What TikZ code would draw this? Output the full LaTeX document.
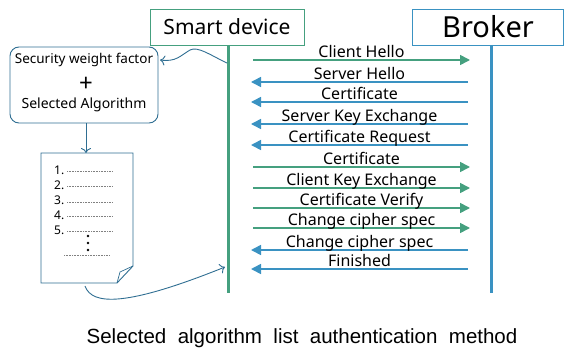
\documentclass[tikz,border=0pt]{standalone}
\usepackage{fontspec}
\setmainfont{Noto Sans}
\newfontfamily\capfont{Liberation Sans}
\usepackage{tikz}
\usetikzlibrary{arrows.meta}
\usetikzlibrary{calc}
\usetikzlibrary{positioning}

\definecolor{devgreen}{HTML}{45A07F}
\definecolor{brkblue}{HTML}{3A92C2}
\definecolor{lstblue}{HTML}{2F6E92}

\begin{document}
\begin{tikzpicture}[x=1pt,y=-1pt,
		msg/.style={line width=1.6pt,-{Triangle[length=10pt,width=10pt]}},
		lbl/.style={inner sep=0pt,anchor=base,yshift=2.5pt,text=black,font=\fontsize{16}{16}\selectfont},
		flow/.style={lstblue,line width=0.9pt,-{To[length=5pt,width=10pt]}},
		num/.style={inner sep=0pt,anchor=base west,font=\fontsize{12}{12}\selectfont\bfseries},
		lstdash/.style={gray,line width=0.5pt,dash pattern=on 1pt off 0.6pt}]
		\useasboundingbox (0,0) rectangle (565,353);

		% headers and lifelines
		\node[draw=devgreen,line width=0.9pt,minimum width=154pt,minimum height=36pt,inner sep=0pt,font=\fontsize{21}{21}\selectfont] (dev) at (227,27) {Smart device};
		\node[draw=brkblue,line width=0.9pt,minimum width=151pt,minimum height=36pt,inner sep=0pt,font=\fontsize{29}{29}\selectfont] (brk) at (488,27) {Broker};
		\coordinate (devtop) at (228,45);
		\coordinate (devend) at (228,293);
		\coordinate (brktop) at (491,45);
		\coordinate (brkend) at (491,293);
		\draw[devgreen,line width=3pt] (devtop) -- (devend);
		\draw[brkblue,line width=3pt] (brktop) -- (brkend);

		% handshake
		\coordinate (d1) at (253,60);  \coordinate (b1) at (470,60);
		\coordinate (d2) at (251,82);  \coordinate (b2) at (468,82);
		\coordinate (d3) at (251,102); \coordinate (b3) at (468,102);
		\coordinate (d4) at (251,124); \coordinate (b4) at (468,124);
		\coordinate (d5) at (251,145); \coordinate (b5) at (468,145);
		\coordinate (d6) at (253,167); \coordinate (b6) at (470,167);
		\coordinate (d7) at (253,188); \coordinate (b7) at (470,188);
		\coordinate (d8) at (253,208); \coordinate (b8) at (470,208);
		\coordinate (d9) at (253,228); \coordinate (b9) at (470,228);
		\coordinate (d10) at (251,250); \coordinate (b10) at (468,250);
		\coordinate (d11) at (251,269); \coordinate (b11) at (468,269);
		\draw[msg,devgreen] (d1) -- node[lbl] (m1) {Client Hello} (b1);
		\draw[msg,brkblue] (b2) -- node[lbl] (m2) {Server Hello} (d2);
		\draw[msg,brkblue] (b3) -- node[lbl] (m3) {Certificate} (d3);
		\draw[msg,brkblue] (b4) -- node[lbl] (m4) {Server Key Exchange} (d4);
		\draw[msg,brkblue] (b5) -- node[lbl] (m5) {Certificate Request} (d5);
		\draw[msg,devgreen] (d6) -- node[lbl] (m6) {Certificate} (b6);
		\draw[msg,devgreen] (d7) -- node[lbl] (m7) {Client Key Exchange} (b7);
		\draw[msg,devgreen] (d8) -- node[lbl] (m8) {Certificate Verify} (b8);
		\draw[msg,devgreen] (d9) -- node[lbl] (m9) {Change cipher spec} (b9);
		\draw[msg,brkblue] (b10) -- node[lbl] (m10) {Change cipher spec} (d10);
		\draw[msg,brkblue] (b11) -- node[lbl] (m11) {Finished} (d11);

		% weight factor box
		\node[draw=lstblue,line width=0.9pt,rounded corners=9pt,minimum width=148pt,minimum height=76pt] (wbox) at (84,85) {};
		\node[font=\fontsize{13.5}{13.5}\selectfont] (swf) at (84,60) {Security weight factor};
		\node[font=\fontsize{24}{24}\selectfont] (plus) at (86,84) {+};
		\node[font=\fontsize{14}{14}\selectfont] (salg) at (84,105) {Selected Algorithm};
		\coordinate (tap) at (227,63);
		\draw[flow] (tap) .. controls (210,55) and (198,46) .. (190,50) .. controls (180,56) and (176,62) .. (160,60);

		% algorithm list
		\coordinate (doctop) at (86,153);
		\draw[flow] (wbox.south -| doctop) -- (doctop);
		\draw[lstblue,line width=0.9pt,fill=white] (41,153) -- (133,153) -- (133,266) -- (117,283) -- (41,283) -- cycle;
		\draw[lstblue,line width=0.7pt] (117,283) -- (120,272) -- (133,266);
		\node[num] (n1) at (54,174) {1.};
		\node[num] (n2) at (54,189) {2.};
		\node[num] (n3) at (54,204) {3.};
		\node[num] (n4) at (54,219) {4.};
		\node[num] (n5) at (54,234) {5.};
		\draw[lstdash] (67,171.5) -- (113,171.5);
		\draw[lstdash] (67,186.5) -- (113,186.5);
		\draw[lstdash] (67,202) -- (113,202);
		\draw[lstdash] (67,216.5) -- (113,216.5);
		\draw[lstdash] (67,231.5) -- (113,231.5);
		\fill (88,236) circle (1.4pt);
		\fill (88,243) circle (1.4pt);
		\fill (88,250) circle (1.4pt);
		\draw[lstdash] (64,255) -- (110,255);
		\coordinate (docbot) at (85,286);
		\coordinate (hit) at (225,267);
		\draw[flow] (docbot) .. controls (92,306) and (128,306) .. (hit);

		% caption
		\node[font=\capfont\fontsize{20.5}{21}\selectfont] (cap) at (302,338) {Selected\ \ algorithm\ \ list\ \ authentication\ \ method};
	\end{tikzpicture}
\end{document}
